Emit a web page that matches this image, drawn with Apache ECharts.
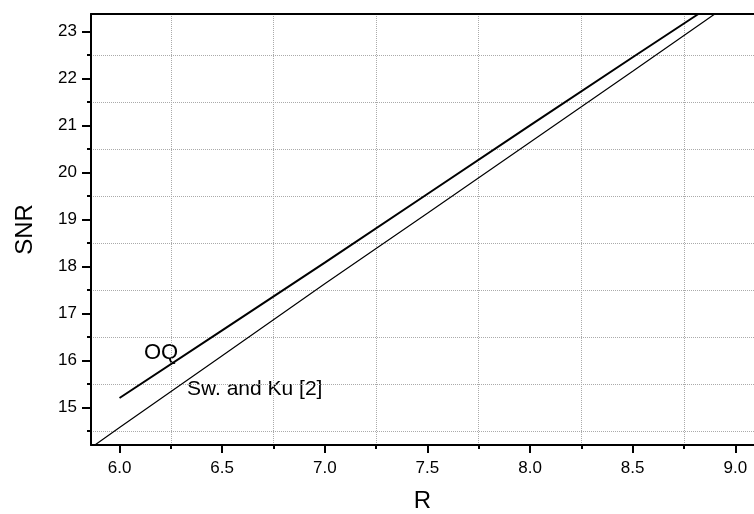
<!DOCTYPE html>
<html lang="en">

<head>
    <meta charset="UTF-8">
    <title>SNR vs R</title>
    <script src="https://cdn.jsdelivr.net/npm/echarts@6/dist/echarts.min.js"></script>
    <style>
        * {
            margin: 0;
            padding: 0;
        }

        #chart {
            width: 754px;
            height: 514px;
        }
    </style>
</head>

<body>
    <div id="chart"></div>
    <script>
        // values
        const rOQ = [6.0, 6.5, 7.0, 7.5, 8.0, 8.5, 8.82]
        const snrOQ = [15.2, 16.64, 18.08, 19.54, 21.0, 22.45, 23.37]
        const rSwKu = [5.88, 6.0, 6.5, 7.0, 7.5, 8.0, 8.5, 8.9]
        const snrSwKu = [14.2, 14.57, 16.1, 17.63, 19.13, 20.64, 22.15, 23.37]

        const xMajor = [6.0, 6.5, 7.0, 7.5, 8.0, 8.5, 9.0]
        const xMinor = [6.25, 6.75, 7.25, 7.75, 8.25, 8.75]
        const yMajor = [15, 16, 17, 18, 19, 20, 21, 22, 23]
        const yMinor = [14.5, 15.5, 16.5, 17.5, 18.5, 19.5, 20.5, 21.5, 22.5]

        const FONT = '"Liberation Sans", Arial, sans-serif'
        const chart = echarts.init(document.querySelector('#chart'))

        const xr = { min: 5.861, max: 9.091 }
        const yr = { min: 14.2, max: 23.37 }

        const option = {
            animation: false,
            backgroundColor: '#fff',
            grid: {
                left: 91,
                right: 0,
                top: 14,
                bottom: 69,
                containLabel: false,
                outerBoundsMode: 'none'
            },
            xAxis: [
                {
                    type: 'value', position: 'bottom', min: xr.min, max: xr.max,
                    name: 'R', nameLocation: 'middle', nameGap: 44,
                    nameTextStyle: { fontFamily: FONT, fontSize: 24, color: '#000' },
                    axisLine: { show: true, lineStyle: { color: '#000', width: 2 } },
                    axisTick: { show: true, customValues: xMajor, length: 8, lineStyle: { color: '#000', width: 2 } },
                    axisLabel: {
                        customValues: xMajor, margin: 15, fontFamily: FONT, fontSize: 17, color: '#000',
                        formatter: v => v.toFixed(1)
                    },
                    splitLine: { show: false }
                },
                {
                    type: 'value', position: 'bottom', min: xr.min, max: xr.max,
                    axisLine: { show: false },
                    axisTick: { show: true, customValues: xMinor, length: 4, lineStyle: { color: '#000', width: 2 } },
                    axisLabel: { show: false },
                    splitLine: { show: true, lineStyle: { color: '#aaa', type: 'dotted', width: 1 } }
                },
                {
                    type: 'value', position: 'top', min: xr.min, max: xr.max,
                    axisLine: { show: true, lineStyle: { color: '#000', width: 2 } },
                    axisTick: { show: false },
                    axisLabel: { show: false },
                    splitLine: { show: false }
                }
            ],
            yAxis: [
                {
                    type: 'value', position: 'left', min: yr.min, max: yr.max,
                    name: 'SNR', nameLocation: 'middle', nameGap: 54,
                    nameTextStyle: { fontFamily: FONT, fontSize: 24, color: '#000' },
                    axisLine: { show: true, lineStyle: { color: '#000', width: 2 } },
                    axisTick: { show: true, customValues: yMajor, length: 9, lineStyle: { color: '#000', width: 2 } },
                    axisLabel: { customValues: yMajor, margin: 14, fontFamily: FONT, fontSize: 17, color: '#000' },
                    splitLine: { show: false }
                },
                {
                    type: 'value', position: 'left', min: yr.min, max: yr.max,
                    axisLine: { show: false },
                    axisTick: { show: true, customValues: yMinor, length: 4, lineStyle: { color: '#000', width: 2 } },
                    axisLabel: { show: false },
                    splitLine: { show: true, lineStyle: { color: '#aaa', type: 'dotted', width: 1 } }
                }
            ],
            series: [
                {
                    name: 'OQ',
                    type: 'line',
                    showSymbol: false,
                    clip: true,
                    lineStyle: { color: '#000', width: 2 },
                    data: rOQ.map((r, i) => [r, snrOQ[i]])
                },
                {
                    name: 'Sw. and Ku [2]',
                    type: 'line',
                    showSymbol: false,
                    clip: true,
                    lineStyle: { color: '#000', width: 1.2 },
                    data: rSwKu.map((r, i) => [r, snrSwKu[i]])
                }
            ],
            graphic: [
                {
                    type: 'text', left: 144, top: 342,
                    style: { text: 'OQ', font: '22px ' + FONT, fill: '#000' }
                },
                {
                    type: 'text', left: 187, top: 379,
                    style: { text: 'Sw. and Ku [2]', font: '21px ' + FONT, fill: '#000' }
                }
            ]
        }

        chart.setOption(option)
    </script>
</body>

</html>
